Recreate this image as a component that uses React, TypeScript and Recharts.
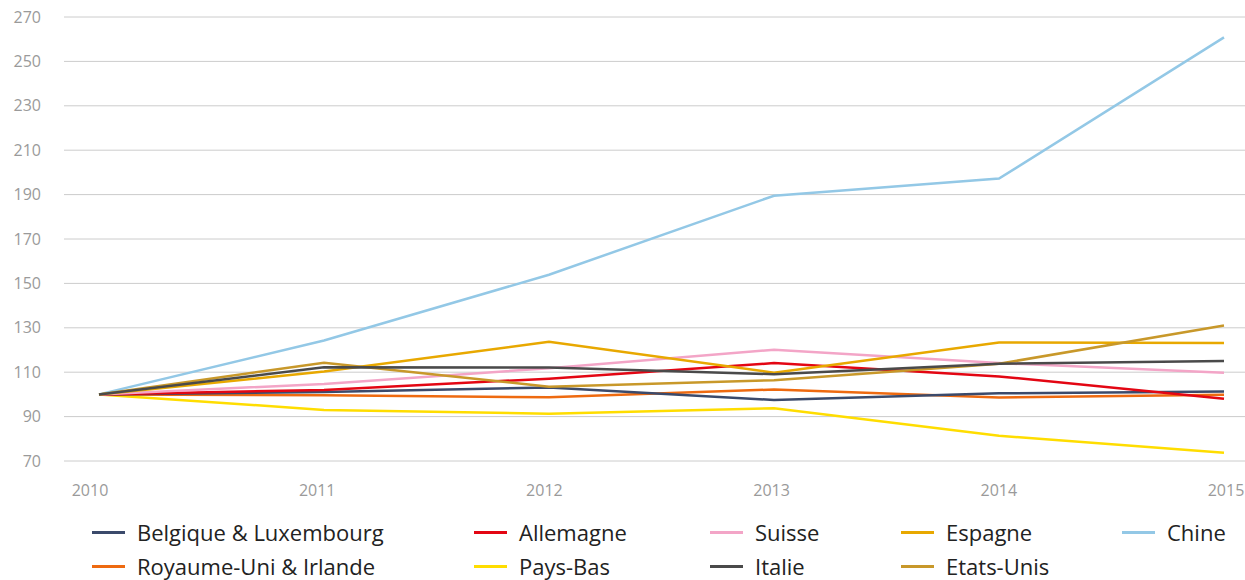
import * as React from "react"
import { CartesianGrid, Line, LineChart, XAxis, YAxis } from "recharts"

const years = ["2010", "2011", "2012", "2013", "2014", "2015"]
const yTicks = [70, 90, 110, 130, 150, 170, 190, 210, 230, 250, 270]

const belgiqueLux = [100, 101.1, 103.1, 97.5, 100.5, 101.3]
const allemagne = [100, 102.0, 107.1, 114.1, 108.1, 98.0]
const suisse = [100, 104.7, 111.8, 120.1, 114.1, 109.8]
const espagne = [100, 110.3, 123.7, 109.8, 123.4, 123.1]
const chine = [100, 124.3, 153.9, 189.5, 197.2, 260.8]
const royaumeUniIrl = [100, 99.6, 98.7, 102.2, 98.6, 99.8]
const paysBas = [100, 93.0, 91.3, 93.8, 81.4, 73.7]
const italie = [100, 112.2, 112.1, 109.1, 113.8, 115.1]
const etatsUnis = [100, 114.3, 103.5, 106.4, 113.8, 131.0]

// legend order follows the reference (row by row, 5 columns)
const series = [
  { key: "belgique", name: "Belgique & Luxembourg", values: belgiqueLux, color: "#3b4a6b" },
  { key: "allemagne", name: "Allemagne", values: allemagne, color: "#e30613" },
  { key: "suisse", name: "Suisse", values: suisse, color: "#f3a5c7" },
  { key: "espagne", name: "Espagne", values: espagne, color: "#e8a800" },
  { key: "chine", name: "Chine", values: chine, color: "#93c8e6" },
  { key: "royaume", name: "Royaume-Uni & Irlande", values: royaumeUniIrl, color: "#ee6a10" },
  { key: "paysbas", name: "Pays-Bas", values: paysBas, color: "#ffdd00" },
  { key: "italie", name: "Italie", values: italie, color: "#4a4a4a" },
  { key: "etatsunis", name: "Etats-Unis", values: etatsUnis, color: "#c8982a" },
]

const data = years.map((year, i) => {
  const row: Record<string, any> = { year }
  series.forEach((s) => {
    row[s.key] = s.values[i]
  })
  return row
})

// draw order so the darker lines end up on top like in the original
const drawOrder = ["chine", "paysbas", "royaume", "belgique", "allemagne", "suisse", "espagne", "etatsunis", "italie"]

const font = "'Open Sans', Lato, sans-serif"
const tickStyle = { fill: "#9a9a9a", fontSize: 16, fontFamily: font }

const ChartLegend = () => (
  <div
    style={{
      position: "absolute",
      left: 92,
      top: 519,
      display: "grid",
      gridTemplateColumns: "382px 236px 191px 221px auto",
      rowGap: 8,
      fontFamily: font,
      fontSize: 22,
      lineHeight: "26px",
      color: "#222",
    }}
  >
    {series.map((s) => (
      <div key={s.key} style={{ display: "flex", alignItems: "center", height: 26 }}>
        <span
          style={{
            display: "inline-block",
            width: 33,
            height: 3,
            background: s.color,
            marginRight: 12,
          }}
        />
        <span>{s.name}</span>
      </div>
    ))}
  </div>
)

export default function App() {
  return (
    <div style={{ position: "absolute", left: 0, top: 0, width: 1245, height: 580, background: "#fff" }}>
      <LineChart
        width={1245}
        height={580}
        data={data}
        margin={{ top: 17, right: 0, bottom: 0, left: 0 }}
      >
        <CartesianGrid vertical={false} stroke="#cccccc" strokeWidth={1} />
        {/* the series axis (hidden) */}
        <XAxis dataKey="year" hide height={0} padding={{ left: 35, right: 21 }} />
        {/* label axis, slightly wider spacing than the points as in the original */}
        <XAxis
          xAxisId="labels"
          dataKey="year"
          axisLine={false}
          tickLine={false}
          tickSize={0}
          tickMargin={24}
          height={119}
          padding={{ left: 26, right: 19 }}
          interval={0}
          tick={tickStyle}
        />
        <YAxis
          domain={[70, 270]}
          ticks={yTicks}
          width={64}
          axisLine={false}
          tickLine={false}
          tickSize={0}
          tickMargin={23}
          tick={tickStyle}
        />
        {drawOrder.map((k) => {
          const s = series.find((x) => x.key === k)!
          return (
            <Line
              key={s.key}
              type="linear"
              dataKey={s.key}
              name={s.name}
              stroke={s.color}
              strokeWidth={2.5}
              dot={false}
              activeDot={false}
              isAnimationActive={false}
            />
          )
        })}
      </LineChart>
      <ChartLegend />
    </div>
  )
}
